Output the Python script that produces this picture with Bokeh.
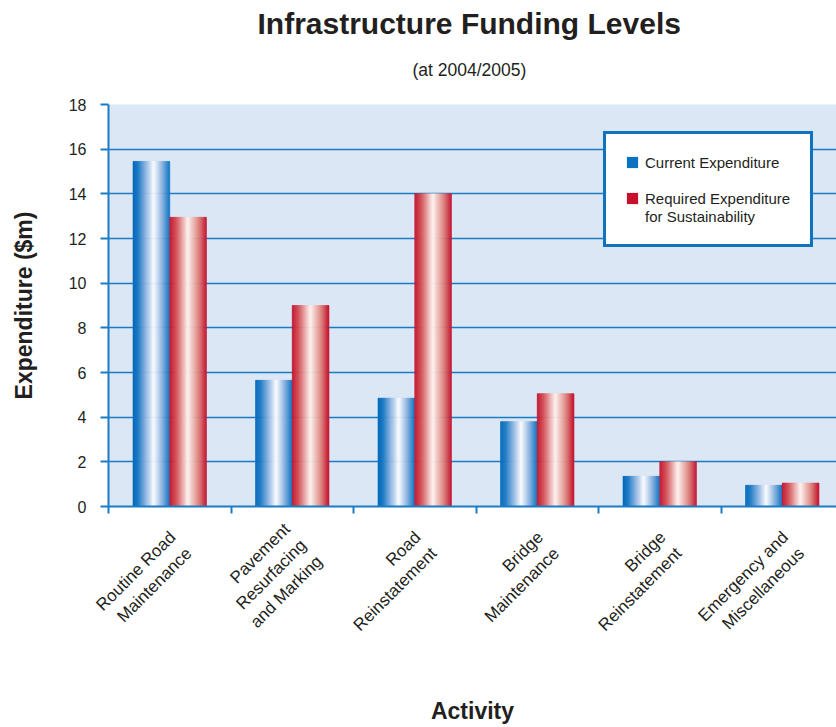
from math import pi

from bokeh.embed import file_html
from bokeh.models import (ColumnDataSource, FixedTicker, Legend, LegendItem,
                          LinearAxis, Range1d, Title)
from bokeh.plotting import figure
from bokeh.resources import INLINE

# ---------------- data ----------------
categories = [
    "Routine Road\nMaintenance",
    "Pavement\nResurfacing\nand Marking",
    "Road\nReinstatement",
    "Bridge\nMaintenance",
    "Bridge\nReinstatement",
    "Emergency and\nMiscellaneous",
]
current_expenditure = [15.45, 5.65, 4.85, 3.8, 1.35, 0.95]
required_expenditure = [12.95, 9.0, 14.0, 5.05, 2.0, 1.05]
series_labels = ["Current Expenditure", "Required Expenditure", "for Sustainability"]
y_ticks = [0, 2, 4, 6, 8, 10, 12, 14, 16, 18]

title_text = "Infrastructure Funding Levels"
subtitle_text = "(at 2004/2005)"
x_title = "Activity"
y_title = "Expenditure ($m)"

# ---------------- style / layout ----------------
FONT = "Liberation Sans"
TXT = "#231f20"
BLUE_LINE = "#1a7cc4"
BG = "#dce7f5"
BAR_W = 0.30
N_STRIPS = 36

blue_stops = [(0.0, (0, 106, 186)), (0.15, (30, 122, 198)), (0.40, (165, 195, 232)),
              (0.57, (252, 253, 255)), (0.78, (150, 184, 226)), (1.0, (10, 116, 196))]
red_stops = [(0.0, (196, 16, 46)), (0.18, (212, 80, 86)), (0.50, (254, 244, 240)),
             (0.80, (222, 128, 122)), (1.0, (196, 20, 48))]


def grad(stops, t):
    for (t0, c0), (t1, c1) in zip(stops[:-1], stops[1:]):
        if t0 <= t <= t1:
            f = (t - t0) / (t1 - t0) if t1 > t0 else 0
            r, g, b = (round(a + (bb - a) * f) for a, bb in zip(c0, c1))
            return "#%02x%02x%02x" % (r, g, b)
    return "#%02x%02x%02x" % stops[-1][1]


n_cat = len(categories)
cat_px = 122.5
frame_w = 728
x_end = frame_w / cat_px

p = figure(width=836, height=727, output_backend="svg", toolbar_location=None,
           x_range=Range1d(0, x_end), y_range=Range1d(0, 18),
           min_border_left=108, min_border_right=0, min_border_top=104,
           min_border_bottom=221, background_fill_color=BG,
           border_fill_color="white", outline_line_color=None)
p.title = None

# ---------------- gradient bars built from the data ----------------
left, right, top, colors = [], [], [], []
for series, stops, shift in ((current_expenditure, blue_stops, -0.5),
                             (required_expenditure, red_stops, 0.5)):
    for i, v in enumerate(series):
        x0 = i + 0.5 + shift * BAR_W - BAR_W / 2
        for k in range(N_STRIPS):
            t = (k + 0.5) / N_STRIPS
            left.append(x0 + k * BAR_W / N_STRIPS)
            right.append(x0 + (k + 1) * BAR_W / N_STRIPS)
            top.append(v)
            colors.append(grad(stops, t))
src = ColumnDataSource(dict(left=left, right=right, top=top,
                            bottom=[0] * len(top), color=colors))
p.quad(left="left", right="right", top="top", bottom="bottom", source=src,
       fill_color="color", line_color="color", line_width=0.6)

# hidden solid-colour proxies (used only for the legend swatches)
centers = [i + 0.5 for i in range(n_cat)]
proxy_src = ColumnDataSource(dict(
    l=[c - BAR_W for c in centers], r=centers, t=current_expenditure,
    l2=centers, r2=[c + BAR_W for c in centers], t2=required_expenditure,
    b=[0] * n_cat))
r_blue = p.quad(left="l", right="r", top="t", bottom="b", source=proxy_src,
                fill_color="#0a72c0", line_color=None, visible=False)
r_red = p.quad(left="l2", right="r2", top="t2", bottom="b", source=proxy_src,
               fill_color="#c8102e", line_color=None, visible=False)
r_none = p.quad(left="l", right="r", top="t", bottom="b", source=proxy_src,
                fill_alpha=0, line_alpha=0, visible=False)

# ---------------- axes & grid ----------------
p.ygrid.ticker = FixedTicker(ticks=y_ticks)
p.ygrid.grid_line_color = BLUE_LINE
p.ygrid.grid_line_width = 1.6
p.xgrid.visible = False

yax = p.yaxis[0]
yax.ticker = FixedTicker(ticks=y_ticks)
yax.axis_line_color = BLUE_LINE
yax.axis_line_width = 2
yax.major_tick_line_color = BLUE_LINE
yax.major_tick_line_width = 2
yax.major_tick_out = 8
yax.major_tick_in = 0
yax.minor_tick_line_color = None
yax.major_label_standoff = 14
yax.major_label_text_font = FONT
yax.major_label_text_font_size = "16px"
yax.major_label_text_color = TXT
yax.axis_label = y_title
yax.axis_label_text_font = FONT
yax.axis_label_text_font_style = "bold"
yax.axis_label_text_font_size = "23px"
yax.axis_label_text_color = TXT
yax.axis_label_standoff = 29

xax = p.xaxis[0]
xax.ticker = FixedTicker(ticks=list(range(n_cat + 1)))
xax.major_label_overrides = {i: "" for i in range(n_cat + 1)}
xax.major_label_standoff = 0
xax.axis_line_color = BLUE_LINE
xax.axis_line_width = 2
xax.major_tick_line_color = BLUE_LINE
xax.major_tick_line_width = 2
xax.major_tick_out = 7
xax.major_tick_in = 0
xax.minor_tick_line_color = None

# rotated category labels on a second (tick-less) axis, which also carries the x title
label_ticks = [i + 0.59 for i in range(n_cat)]
cat_axis = LinearAxis(ticker=FixedTicker(ticks=label_ticks),
                      major_label_overrides={t: c for t, c in zip(label_ticks, categories)},
                      major_label_orientation=pi / 4,
                      major_label_text_font=FONT, major_label_text_font_size="17px",
                      major_label_text_color=TXT, major_label_text_align="center",
                      major_label_standoff=29, major_tick_out=0, major_tick_in=0,
                      minor_tick_line_color=None, major_tick_line_color=None,
                      axis_line_color=None,
                      axis_label=x_title, axis_label_standoff=39,
                      axis_label_text_font=FONT, axis_label_text_font_style="bold",
                      axis_label_text_font_size="23px", axis_label_text_color=TXT)
p.add_layout(cat_axis, "below")

# titles
p.add_layout(Title(text=subtitle_text, align="left", offset=304, standoff=50,
                   text_font=FONT, text_font_size="17.5px", text_font_style="normal",
                   text_color=TXT), "above")
p.add_layout(Title(text=title_text, align="left", offset=149, standoff=-14,
                   text_font=FONT, text_font_size="30px", text_font_style="bold",
                   text_color=TXT), "above")

# ---------------- legend ----------------
legend = Legend(items=[LegendItem(label=series_labels[0], renderers=[r_blue]),
                       LegendItem(label=" ", renderers=[r_none]),
                       LegendItem(label=series_labels[1], renderers=[r_red]),
                       LegendItem(label=series_labels[2], renderers=[r_none])],
                location=(495, 259), padding=19, spacing=0,
                glyph_width=14, glyph_height=14, label_standoff=6,
                label_width=146, label_height=18,
                label_text_font=FONT, label_text_font_size="15px",
                label_text_color=TXT, border_line_color="#0f74c0",
                border_line_width=3, border_line_alpha=1,
                background_fill_color="white", background_fill_alpha=1)
p.add_layout(legend)

open("out.html", "w").write(file_html(p, INLINE))
